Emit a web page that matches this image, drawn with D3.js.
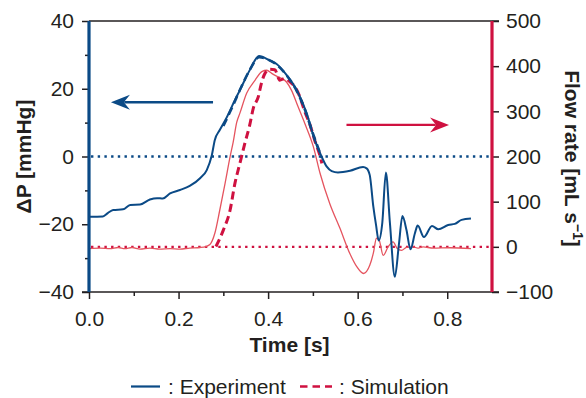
<!DOCTYPE html>
<html>
<head>
<meta charset="utf-8">
<script src="https://cdn.jsdelivr.net/npm/d3@7"></script>
<style>
    body { margin: 0; background: #fff; }
    svg { display: block; }
    text { font-family: "Liberation Sans", Arial, Helvetica, sans-serif; fill: #231f20; }
</style>
</head>
<body>
<div id="chart"></div>
<script>
// experimental pressure difference [mmHg]
const expPTime = [0, 0.031, 0.042, 0.054, 0.076, 0.092, 0.114, 0.136, 0.152, 0.165, 0.181, 0.203, 0.225, 0.248, 0.263, 0.274, 0.281, 0.292, 0.307, 0.326, 0.337, 0.359, 0.380, 0.404, 0.419, 0.441, 0.464, 0.486, 0.504, 0.519, 0.531, 0.542, 0.556, 0.583, 0.612, 0.620, 0.627, 0.635, 0.641, 0.647, 0.655, 0.663, 0.672, 0.683, 0.692, 0.700, 0.709, 0.718, 0.728, 0.734, 0.748, 0.766, 0.780, 0.802, 0.817, 0.832, 0.853];
const expP = [-17.8, -17.7, -16.7, -15.8, -15.6, -14.3, -14.2, -12.7, -12.3, -12.4, -10.9, -9.9, -8.7, -6.4, -4.0, 0.2, 4.9, 7.8, 11.4, 16.7, 19.6, 25.5, 29.7, 28.3, 27.3, 24.1, 19.6, 12.8, 4.9, 0.1, -3.0, -4.3, -4.7, -4.2, -3.1, -3.5, -5.5, -14.8, -20.2, -24.8, -19.6, -4.7, -19.6, -35.5, -26.1, -17.6, -21.7, -27.4, -22.6, -20.4, -23.8, -20.5, -21.5, -20.2, -19.9, -18.7, -18.3];

// simulated pressure difference [mmHg]
const simPTime = [0.300, 0.320, 0.340, 0.360, 0.380, 0.400, 0.420, 0.440, 0.460, 0.480, 0.500, 0.520];
const simP = [9.0, 14.6, 20.5, 25.8, 29.3, 28.6, 27.0, 24.2, 20.3, 14.6, 6.8, -0.4];

// experimental flow rate [mL/s]
const expQTime = [0, 0.025, 0.047, 0.065, 0.080, 0.096, 0.114, 0.136, 0.158, 0.181, 0.203, 0.225, 0.248, 0.261, 0.270, 0.281, 0.292, 0.304, 0.315, 0.322, 0.330, 0.337, 0.352, 0.371, 0.386, 0.397, 0.408, 0.419, 0.430, 0.441, 0.452, 0.467, 0.482, 0.501, 0.516, 0.538, 0.560, 0.583, 0.598, 0.613, 0.627, 0.635, 0.642, 0.648, 0.657, 0.668, 0.679, 0.688, 0.698, 0.709, 0.724, 0.735, 0.746, 0.769, 0.806, 0.853];
const expQ = [-3.8, -2.7, -3.8, -1.5, -3.8, -1.5, -4.9, -2.7, -4.9, -3.8, -4.9, -2.7, -1.5, 0.7, 5, 30, 81, 141, 199, 232, 276, 296, 340, 369, 388, 391, 384, 378, 373, 365, 347, 310, 273, 222, 163, 95, 42, -16, -44, -59, -41, -14, 19, 15, -19, 0, 11, -3, -8, -1, 0, -3, 0, -3, -2, -4];

// simulated flow rate [mL/s]
const simQTime = [0.2835, 0.300, 0.315, 0.326, 0.337, 0.348, 0.359, 0.367, 0.378, 0.385, 0.393, 0.404, 0.415, 0.426, 0.438, 0.449, 0.460, 0.471, 0.482, 0.493, 0.504, 0.516, 0.520];
const simQ = [0.7, 37, 81, 141, 185, 229, 270, 307, 332, 362, 384, 393, 392, 369, 373, 365, 354, 332, 299, 272, 236, 201, 185];

const timeTicks = [0, 0.2, 0.4, 0.6, 0.8];
const timeMinor = [0.1, 0.3, 0.5, 0.7];
const pTicks = [-40, -20, 0, 20, 40];
const pMinor = [-30, -10, 10, 30];
const qTicks = [-100, 0, 100, 200, 300, 400, 500];

const W = 586, H = 398,
    mLeft = 89, mRight = 492, mTop = 21, mBottom = 292,
    fs = 21;

const blue = "#0b4a86", red = "#cf1140", pink = "#e5545f";

const x = d3.scaleLinear().domain([0, 0.9]).range([mLeft, mRight]);
const yP = d3.scaleLinear().domain([-40, 40]).range([mBottom, mTop]);
const yQ = d3.scaleLinear().domain([-100, 500]).range([mBottom, mTop]);

const svg = d3.select("#chart").append("svg")
    .attr("width", W).attr("height", H);

let zip = function (ts, vs) {
    return ts.map((t, i) => ({t: t, v: vs[i]}));
};

let lineP = d3.line().x(d => x(d.t)).y(d => yP(d.v)).curve(d3.curveMonotoneX);
let lineQ = d3.line().x(d => x(d.t)).y(d => yQ(d.v)).curve(d3.curveMonotoneX);

// zero reference lines
svg.append("line")
    .attr("x1", mLeft + 2).attr("x2", mRight - 2)
    .attr("y1", yP(0)).attr("y2", yP(0))
    .attr("stroke", blue).attr("stroke-width", 2.4)
    .attr("stroke-dasharray", "2.4 4.3");
svg.append("line")
    .attr("x1", mLeft + 2).attr("x2", mRight - 2)
    .attr("y1", yQ(0)).attr("y2", yQ(0))
    .attr("stroke", red).attr("stroke-width", 2.4)
    .attr("stroke-dasharray", "2.4 4.3");

// curves
svg.append("path").attr("d", lineQ(zip(expQTime, expQ)))
    .attr("fill", "none").attr("stroke", pink).attr("stroke-width", 1.3);
svg.append("path").attr("d", lineQ(zip(simQTime, simQ)))
    .attr("fill", "none").attr("stroke", red).attr("stroke-width", 3)
    .attr("stroke-dasharray", "8 4.5");
svg.append("path").attr("d", lineP(zip(expPTime, expP)))
    .attr("fill", "none").attr("stroke", blue).attr("stroke-width", 2);
svg.append("path").attr("d", lineP(zip(simPTime, simP)))
    .attr("fill", "none").attr("stroke", blue).attr("stroke-width", 2.6)
    .attr("stroke-dasharray", "8 4.5");

// axes
let styleAxis = function (g) {
    g.select(".domain").remove();
    g.selectAll(".tick line").attr("stroke", "#231f20").attr("stroke-width", 1.5);
    g.selectAll(".tick text").attr("font-size", fs).attr("fill", "#231f20")
        .attr("font-family", "'Liberation Sans', Arial, sans-serif");
};

svg.append("g").attr("transform", `translate(${mLeft},0)`)
    .call(d3.axisLeft(yP).tickValues(pTicks).tickSize(7).tickPadding(8)
        .tickFormat(d3.format("d")))
    .call(styleAxis);
svg.append("g").attr("transform", `translate(${mLeft},0)`)
    .call(d3.axisLeft(yP).tickValues(pMinor).tickSize(4).tickFormat(""))
    .call(styleAxis);
svg.append("g").attr("transform", `translate(${mRight},0)`)
    .call(d3.axisRight(yQ).tickValues(qTicks).tickSize(7).tickPadding(7)
        .tickFormat(d3.format("d")))
    .call(styleAxis);
svg.append("g").attr("transform", `translate(0,${mBottom})`)
    .call(d3.axisBottom(x).tickValues(timeTicks).tickSize(7).tickPadding(12)
        .tickFormat(d3.format(".1f")))
    .call(styleAxis);
svg.append("g").attr("transform", `translate(0,${mBottom})`)
    .call(d3.axisBottom(x).tickValues(timeMinor).tickSize(4).tickFormat(""))
    .call(styleAxis);

// frame lines
svg.append("line").attr("x1", mLeft).attr("x2", mRight + 7)
    .attr("y1", mTop).attr("y2", mTop)
    .attr("stroke", "#231f20").attr("stroke-width", 1.6);
svg.append("line").attr("x1", mLeft - 7).attr("x2", mRight + 7)
    .attr("y1", mBottom).attr("y2", mBottom)
    .attr("stroke", "#231f20").attr("stroke-width", 1.6);
svg.append("line").attr("x1", mLeft).attr("x2", mLeft)
    .attr("y1", mTop).attr("y2", mBottom)
    .attr("stroke", blue).attr("stroke-width", 3.2);
svg.append("line").attr("x1", mRight).attr("x2", mRight)
    .attr("y1", mTop).attr("y2", mBottom)
    .attr("stroke", red).attr("stroke-width", 3.2);

// direction arrows
let arrow = function (x0, x1, yy, color) {
    let dir = Math.sign(x1 - x0), L = 19, w = 7.5;
    svg.append("line")
        .attr("x1", x0).attr("x2", x1 - dir * L * 0.7)
        .attr("y1", yy).attr("y2", yy)
        .attr("stroke", color).attr("stroke-width", 2.4);
    svg.append("path")
        .attr("d", `M${x1},${yy} L${x1 - dir * L},${yy - w} L${x1 - dir * L * 0.68},${yy} L${x1 - dir * L},${yy + w} Z`)
        .attr("fill", color);
};
arrow(x(0.277), x(0.049), yP(16), blue);
arrow(x(0.575), x(0.804), yQ(270), red);

// axis titles
svg.append("text")
    .attr("transform", `translate(31,${(mTop + mBottom) / 2}) rotate(-90)`)
    .attr("text-anchor", "middle").attr("font-size", fs).attr("font-weight", "bold")
    .text("ΔP [mmHg]");

let fl = svg.append("text")
    .attr("transform", `translate(565,${(mTop + mBottom) / 2 + 2}) rotate(90)`)
    .attr("text-anchor", "middle").attr("font-size", fs).attr("font-weight", "bold");
fl.append("tspan").text("Flow rate [mL s");
fl.append("tspan").attr("font-size", 14).attr("dy", -8).text("−1");
fl.append("tspan").attr("dy", 8).text("]");

svg.append("text")
    .attr("x", (x(0) + x(0.9)) / 2 - 1).attr("y", 352)
    .attr("text-anchor", "middle").attr("font-size", fs).attr("font-weight", "bold")
    .text("Time [s]");

// legend
const ly = 386.5;
svg.append("line").attr("x1", 131).attr("x2", 160).attr("y1", ly).attr("y2", ly)
    .attr("stroke", blue).attr("stroke-width", 2.2);
svg.append("text").attr("x", 168).attr("y", ly + 7).attr("font-size", fs)
    .text(": Experiment");
svg.append("line").attr("x1", 300).attr("x2", 332).attr("y1", ly).attr("y2", ly)
    .attr("stroke", red).attr("stroke-width", 2.4).attr("stroke-dasharray", "7.5 5");
svg.append("text").attr("x", 339).attr("y", ly + 7).attr("font-size", fs)
    .text(": Simulation");
</script>
</body>
</html>
